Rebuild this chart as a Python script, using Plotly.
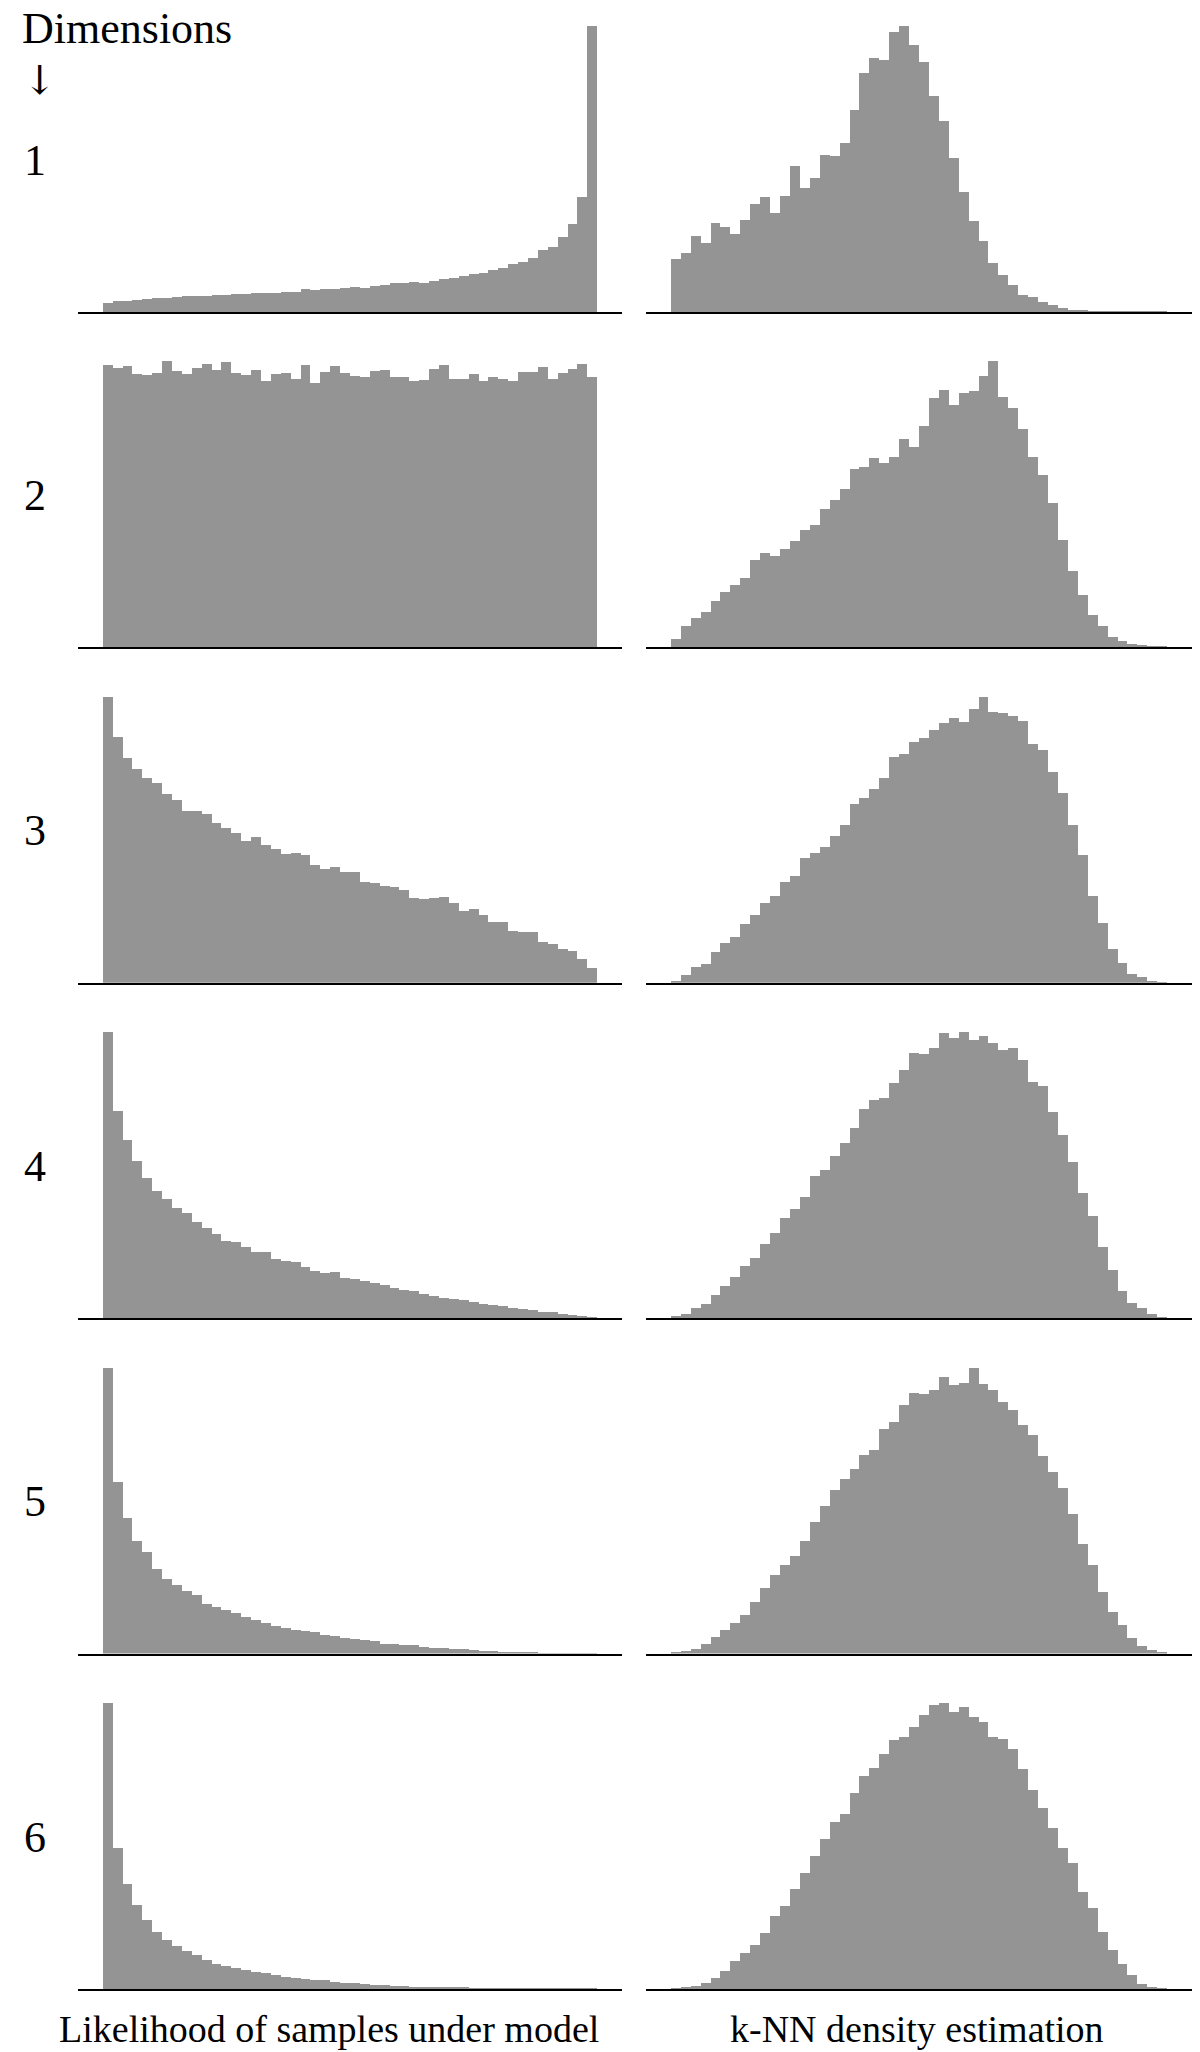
import plotly.graph_objects as go

# bin counts (50 bins per panel, relative heights)
lik_d1 = [27, 32, 34, 36, 39, 41, 43, 44, 47, 48, 49, 52, 52, 53, 54, 57, 58, 58, 59, 61,
          68, 65, 68, 69, 71, 75, 73, 77, 80, 86, 87, 90, 88, 94, 99, 102, 107, 113, 117, 125,
          132, 144, 151, 161, 185, 195, 225, 265, 347, 859]
knn_d1 = [159, 178, 228, 206, 267, 255, 234, 277, 326, 345, 297, 348, 439, 372, 402, 471, 468, 507, 607, 718,
          765, 759, 843, 859, 804, 753, 649, 573, 462, 361, 275, 212, 146, 110, 82, 50, 44, 31, 22, 11,
          7, 4, 2, 1, 1, 1, 0.5, 0.5, 0.3, 0.3]

lik_d2 = [848, 838, 845, 819, 818, 822, 858, 830, 819, 839, 851, 833, 856, 822, 816, 832, 798, 819, 823, 804,
          846, 792, 826, 845, 824, 815, 810, 830, 833, 812, 811, 798, 803, 834, 848, 805, 806, 820, 798, 810,
          804, 798, 826, 827, 840, 804, 823, 836, 851, 810]
knn_d2 = [25, 62, 86, 106, 139, 165, 187, 208, 261, 284, 274, 295, 318, 353, 368, 416, 443, 475, 536, 541,
          567, 554, 571, 624, 601, 664, 748, 773, 728, 764, 771, 814, 859, 751, 719, 654, 570, 518, 433, 323,
          230, 157, 97, 63, 31, 17, 9, 6, 3, 2]

lik_d3 = [857, 738, 674, 641, 615, 599, 567, 550, 515, 515, 507, 480, 464, 449, 427, 437, 413, 403, 388, 391,
          384, 355, 343, 347, 332, 332, 302, 301, 292, 289, 279, 254, 253, 254, 257, 239, 217, 221, 203, 184,
          184, 157, 154, 154, 123, 117, 103, 97, 71, 44]
knn_d3 = [7, 25, 47, 58, 93, 119, 138, 177, 205, 239, 260, 304, 320, 374, 390, 408, 440, 473, 538, 556,
          583, 615, 679, 686, 724, 734, 760, 780, 796, 783, 821, 857, 812, 811, 800, 785, 717, 698, 634, 570,
          475, 385, 262, 180, 101, 60, 28, 17, 6, 3]

lik_d4 = [856, 619, 533, 471, 419, 381, 356, 331, 314, 289, 269, 253, 230, 228, 213, 199, 198, 178, 171, 168,
          152, 141, 136, 139, 119, 116, 110, 104, 98, 91, 84, 81, 72, 66, 61, 58, 54, 48, 42, 40,
          35, 31, 27, 23, 18, 17, 13, 8, 4, 2]
knn_d4 = [6, 13, 29, 41, 68, 95, 123, 157, 181, 221, 256, 299, 328, 362, 424, 444, 486, 524, 568, 626,
          654, 658, 703, 742, 794, 791, 808, 854, 838, 856, 833, 844, 823, 802, 810, 772, 707, 694, 618, 549,
          467, 376, 305, 212, 143, 82, 44, 29, 13, 3]

lik_d5 = [857, 516, 409, 340, 307, 254, 226, 207, 190, 176, 150, 140, 132, 122, 110, 101, 94, 85, 79, 73,
          70, 65, 58, 54, 49, 46, 42, 38, 31, 30, 28, 26, 21, 19, 18, 16, 15, 11, 10, 9,
          7, 6, 5, 4, 3, 2, 2, 1, 1, 1]
knn_d5 = [5, 9, 14, 30, 50, 72, 93, 118, 157, 198, 236, 266, 295, 340, 394, 442, 492, 524, 553, 596,
          611, 675, 695, 745, 782, 780, 791, 829, 807, 813, 856, 810, 791, 754, 730, 687, 655, 592, 545, 497,
          419, 331, 266, 185, 127, 88, 48, 24, 11, 5]

lik_d6 = [856, 422, 315, 251, 208, 170, 147, 128, 113, 102, 88, 76, 68, 63, 58, 52, 47, 42, 35, 33,
          31, 27, 26, 22, 18, 17, 16, 12, 11, 10, 8, 7, 7, 6, 5, 4, 4, 3, 3, 3,
          2, 2, 1, 1, 1, 1, 0.5, 0.5, 0.5, 0.5]
knn_d6 = [1, 5, 9, 17, 33, 54, 85, 108, 132, 168, 218, 248, 300, 348, 400, 451, 500, 526, 588, 638,
          664, 705, 746, 755, 785, 822, 852, 857, 832, 846, 816, 802, 756, 750, 720, 660, 596, 544, 483, 423,
          377, 291, 243, 170, 116, 76, 43, 16, 7, 3]

row_labels = ["1", "2", "3", "4", "5", "6"]
col_labels = ["Likelihood of samples under model", "k-NN density estimation"]

W, H = 1200, 2052
BAR = "#949494"
FONT = "Liberation Serif"

rows = [(lik_d1, knn_d1), (lik_d2, knn_d2), (lik_d3, knn_d3),
        (lik_d4, knn_d4), (lik_d5, knn_d5), (lik_d6, knn_d6)]
col_x = [(78, 622), (646, 1192)]  # pixel spans of the axes

fig = go.Figure()
layout = {}
for r, pair in enumerate(rows):
    bottom = 312 + 335.4 * r
    top = bottom - 300
    for c, vals in enumerate(pair):
        n = r * 2 + c + 1
        sfx = "" if n == 1 else str(n)
        nbins = len(vals)
        fig.add_trace(go.Bar(
            x=list(range(nbins)), y=vals, width=1,
            marker=dict(color=BAR, line=dict(width=0)),
            xaxis="x" + sfx, yaxis="y" + sfx,
            hoverinfo="skip",
        ))
        pad = nbins * 0.05
        layout["xaxis" + sfx] = dict(
            domain=[col_x[c][0] / W, col_x[c][1] / W],
            range=[-0.5 - pad, nbins - 0.5 + pad],
            showline=True, linecolor="black", linewidth=2,
            showgrid=False, zeroline=False, showticklabels=False, ticks="",
            anchor="y" + sfx,
        )
        layout["yaxis" + sfx] = dict(
            domain=[1 - bottom / H, 1 - top / H],
            range=[0, max(vals) * 1.05],
            visible=False, anchor="x" + sfx,
        )

big = dict(family=FONT, size=44, color="black")
annotations = [
    dict(text="Dimensions", x=20 / W, y=1 - 29 / H, xanchor="left", yanchor="middle", font=big),
    dict(text="↓", x=40 / W, y=1 - 80 / H, xanchor="center", yanchor="middle",
         font=dict(family="DejaVu Serif", size=40, color="black")),
]
for r, lab in enumerate(row_labels):
    yc = 312 + 335.4 * r - 152
    annotations.append(dict(text=lab, x=35 / W, y=1 - yc / H, xanchor="center", yanchor="middle", font=big))
small = dict(family=FONT, size=38, color="black")
annotations.append(dict(text=col_labels[0], x=329 / W, y=0, xanchor="center", yanchor="bottom", font=small))
annotations.append(dict(text=col_labels[1], x=917 / W, y=0, xanchor="center", yanchor="bottom", font=small))
for a in annotations:
    a.update(xref="paper", yref="paper", showarrow=False)

fig.update_layout(
    width=W, height=H, autosize=False,
    margin=dict(l=0, r=0, t=0, b=0),
    paper_bgcolor="white", plot_bgcolor="white",
    showlegend=False, bargap=0,
    annotations=annotations,
    **layout,
)

# drop the browser's default 8px body margin so the figure sits at the page corner
fig.write_html("out.html", config={"displayModeBar": False},
               post_script="document.body.style.margin = '0';")
